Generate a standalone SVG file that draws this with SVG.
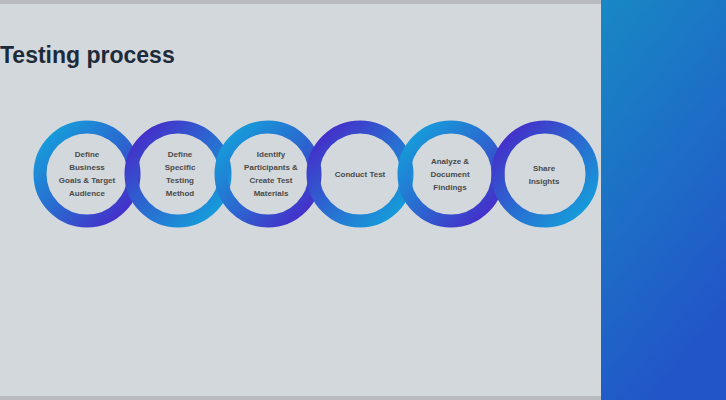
<svg xmlns="http://www.w3.org/2000/svg" width="726" height="400" viewBox="0 0 726 400">
<style>
.lbl{font-family:"Liberation Sans",Arial,sans-serif;font-size:8px;font-weight:bold;fill:#4a4a4a;text-anchor:middle}
.ring{fill:none;stroke-width:13}
</style>
<defs>
<linearGradient id="gA" x1="0" y1="0" x2="1" y2="1"><stop offset="0" stop-color="#12a6dc"/><stop offset="0.5" stop-color="#2a6ad0"/><stop offset="1" stop-color="#4a22c8"/></linearGradient>
<linearGradient id="gB" x1="0" y1="0" x2="1" y2="1"><stop offset="0" stop-color="#4a22c8"/><stop offset="0.5" stop-color="#2a6ad0"/><stop offset="1" stop-color="#12a6dc"/></linearGradient>
<linearGradient id="gP" x1="0" y1="0" x2="0.4" y2="1"><stop offset="0" stop-color="#1888c4"/><stop offset="1" stop-color="#2256c8"/></linearGradient>
</defs>
<rect width="726" height="400" fill="#d3d8dc"/>
<rect x="0" y="0" width="726" height="4" fill="#b8bcc0"/>
<rect x="0" y="396" width="726" height="4" fill="#b8bcc0"/>
<rect x="601" y="0" width="125" height="400" fill="url(#gP)"/>
<text x="0" y="63" font-family="Liberation Sans,Arial,sans-serif" font-size="23" font-weight="bold" fill="#1d2a3a">Testing process</text>
<g id="connectors"/>
<g id="n1"><circle class="ring" cx="87" cy="174" r="47" stroke="url(#gA)"/><text class="lbl"><tspan x="87" y="157">Define</tspan><tspan x="87" y="170">Business</tspan><tspan x="87" y="183">Goals &amp; Target</tspan><tspan x="87" y="196">Audience</tspan></text></g>
<g id="n2"><circle class="ring" cx="178" cy="174" r="47" stroke="url(#gB)"/><text class="lbl"><tspan x="180" y="157">Define</tspan><tspan x="180" y="170">Specific</tspan><tspan x="180" y="183">Testing</tspan><tspan x="180" y="196">Method</tspan></text></g>
<g id="n3"><circle class="ring" cx="268" cy="174" r="47" stroke="url(#gA)"/><text class="lbl"><tspan x="271" y="157">Identify</tspan><tspan x="271" y="170">Participants &amp;</tspan><tspan x="271" y="183">Create Test</tspan><tspan x="271" y="196">Materials</tspan></text></g>
<g id="n4"><circle class="ring" cx="360" cy="174" r="47" stroke="url(#gB)"/><text class="lbl" x="360" y="177">Conduct Test</text></g>
<g id="n5"><circle class="ring" cx="451" cy="174" r="47" stroke="url(#gA)"/><text class="lbl"><tspan x="450" y="164">Analyze &amp;</tspan><tspan x="450" y="177">Document</tspan><tspan x="450" y="190">Findings</tspan></text></g>
<g id="n6"><circle class="ring" cx="545" cy="174" r="47" stroke="url(#gB)"/><text class="lbl"><tspan x="544" y="171">Share</tspan><tspan x="544" y="184">Insights</tspan></text></g>
</svg>
